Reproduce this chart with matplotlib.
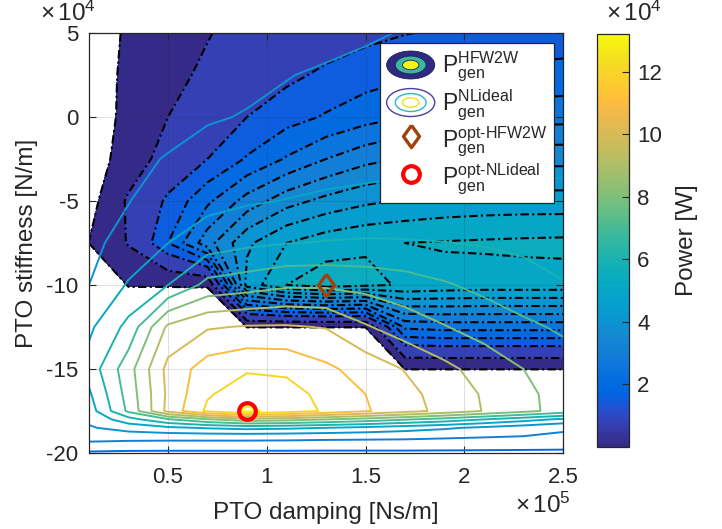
import numpy as np
import matplotlib
matplotlib.use('Agg')
import matplotlib.pyplot as plt
from matplotlib.colors import LinearSegmentedColormap, Normalize
from matplotlib.legend_handler import HandlerBase
from matplotlib.patches import Ellipse
from matplotlib.lines import Line2D
import matplotlib.cm as cm

plt.rcParams['font.family'] = ['Liberation Sans', 'DejaVu Sans']
plt.rcParams['mathtext.fontset'] = 'custom'
plt.rcParams['mathtext.rm'] = 'Liberation Sans'
plt.rcParams['mathtext.it'] = 'Liberation Sans:italic'
plt.rcParams['mathtext.bf'] = 'Liberation Sans:bold'

# ---------------- data ----------------
damping = np.array([0.1, 0.3, 0.5, 0.7, 0.9, 1.1, 1.3, 1.5, 1.7, 1.9, 2.1, 2.3, 2.5]) * 1e5

# NL ideal generated power (x1e4 W) on stiffness rows
stiff_nl = np.array([-20, -19.5, -19, -18.5, -18, -17.5, -16.5, -15, -12.5, -10,
                     -7.5, -5, -2.5, 0, 2.5, 5]) * 1e4
P_nl = np.array([
    [1.85, 1.8, 1.8, 1.8, 1.8, 1.8, 1.8, 1.8, 1.8, 1.8, 1.8, 1.8, 1.8],
    [2.7, 2.6, 2.55, 2.55, 2.55, 2.55, 2.5, 2.5, 2.5, 2.45, 2.4, 2.35, 2.3],
    [3.55, 3.5, 3.5, 3.5, 3.5, 3.45, 3.4, 3.35, 3.3, 3.2, 3.1, 3.0, 2.9],
    [3.9, 4.4, 4.8, 5.1, 5.3, 5.2, 5.0, 4.75, 4.45, 4.15, 3.8, 3.45, 3.1],
    [4.2, 5.6, 6.9, 7.9, 8.6, 8.4, 8.0, 7.6, 7.1, 6.6, 6.0, 5.4, 4.8],
    [4.5, 7.2, 10.3, 12.2, 13.2, 12.6, 11.85, 11.1, 10.4, 9.7, 8.95, 8.3, 7.6],
    [4.85, 7.4, 10.2, 11.9, 12.5, 12.4, 11.7, 11.0, 10.3, 9.6, 8.9, 8.25, 7.6],
    [5.4, 7.6, 10.3, 11.5, 11.9, 11.8, 11.2, 10.6, 9.95, 9.25, 8.6, 8.0, 7.5],
    [4.8, 6.3, 9.2, 9.9, 10.08, 10.1, 9.95, 9.1, 8.5, 8.05, 7.6, 7.2, 6.85],
    [4.0, 5.1, 6.0, 7.3, 7.55, 7.85, 7.85, 7.7, 7.45, 7.1, 6.75, 6.4, 6.05],
    [3.8, 4.3, 5.0, 5.5, 5.8, 5.97, 6.05, 6.1, 6.08, 6.02, 5.93, 5.8, 5.65],
    [3.7, 3.97, 4.5, 4.72, 4.9, 5.03, 5.15, 5.22, 5.27, 5.3, 5.28, 5.23, 5.15],
    [3.65, 3.88, 4.03, 4.2, 4.35, 4.48, 4.6, 4.7, 4.78, 4.84, 4.87, 4.88, 4.87],
    [3.5, 3.65, 3.82, 3.95, 4.03, 4.12, 4.2, 4.28, 4.36, 4.42, 4.47, 4.5, 4.5],
    [3.3, 3.45, 3.6, 3.75, 3.88, 3.98, 4.07, 4.15, 4.22, 4.28, 4.32, 4.35, 4.36],
    [3.1, 3.2, 3.35, 3.5, 3.62, 3.73, 3.83, 3.93, 4.03, 4.1, 4.15, 4.18, 4.2],
]) * 1e4

# HFW2W generated power (x1e4 W); negative = below lowest level (blank)
stiff_hf = np.array([-20, -17.5, -15, -12.5, -10, -7.5, -5, -2.5, 0, 2.5, 5]) * 1e4
P_hf = np.array([
    [-1, -1, -1, -1, -1, -1, -1, -1, -1, -1, -1, -1, -1],
    [-1, -1, -1, -1, -1, -1, -1, -1, -1, -1, -1, -1, -1],
    [-1, -1, -1, -1, -1, -1, -1, -1, 0.06, 0.06, 0.06, 0.06, 0.06],
    [-1, -1, -1, -1, 0.06, 0.06, 0.06, 0.06, 2.6, 2.7, 2.7, 2.7, 2.7],
    [-1, 0.1, 0.1, 0.12, 4.7, 5.5, 5.75, 5.6, 5.45, 5.35, 5.3, 5.3, 5.3],
    [0.06, 0.8, 2.0, 3.3, 4.4, 5.0, 5.3, 5.45, 5.5, 5.54, 5.57, 5.6, 5.62],
    [-0.2, 0.85, 1.6, 2.4, 3.2, 3.8, 4.15, 4.4, 4.55, 4.65, 4.7, 4.72, 4.72],
    [-0.3, 0.35, 1.05, 1.5, 2.05, 2.55, 3.0, 3.35, 3.55, 3.7, 3.8, 3.85, 3.85],
    [-0.1, 0.12, 0.75, 1.1, 1.5, 1.8, 2.05, 2.3, 2.5, 2.65, 2.75, 2.8, 2.82],
    [-0.05, 0.09, 0.6, 0.85, 1.15, 1.38, 1.6, 1.78, 1.92, 2.02, 2.1, 2.15, 2.18],
    [-0.03, 0.07, 0.42, 0.72, 0.95, 1.1, 1.22, 1.36, 1.48, 1.56, 1.63, 1.68, 1.72],
]) * 1e4

levels_hf = np.array([0.05, 0.75, 1.5, 2.0, 2.5, 3.0, 3.5, 4.0, 4.5, 5.0, 5.5, 6.0]) * 1e4
levels_nl = np.array([1, 2, 3, 4, 5, 6, 7, 8, 9, 10, 11, 12, 13]) * 1e4

opt_hf = (1.3e5, -10e4)
opt_nl = (0.9e5, -17.5e4)

clim = (0, 13.2e4)
cbar_ticks = np.array([2, 4, 6, 8, 10, 12]) * 1e4
x_ticks = np.array([0.5, 1, 1.5, 2, 2.5]) * 1e5
y_ticks = np.array([-20, -15, -10, -5, 0, 5]) * 1e4

# ---------------- colormap (parula) ----------------
PARULA = [
    (0.2081, 0.1663, 0.5292), (0.2116, 0.1898, 0.5777), (0.2123, 0.2138, 0.6270),
    (0.2081, 0.2386, 0.6771), (0.1959, 0.2645, 0.7279), (0.1707, 0.2919, 0.7792),
    (0.1253, 0.3242, 0.8303), (0.0591, 0.3598, 0.8683), (0.0117, 0.3875, 0.8820),
    (0.0060, 0.4086, 0.8828), (0.0165, 0.4266, 0.8786), (0.0329, 0.4430, 0.8720),
    (0.0498, 0.4586, 0.8641), (0.0629, 0.4737, 0.8554), (0.0723, 0.4887, 0.8467),
    (0.0779, 0.5040, 0.8384), (0.0793, 0.5200, 0.8312), (0.0749, 0.5375, 0.8263),
    (0.0641, 0.5570, 0.8240), (0.0488, 0.5772, 0.8228), (0.0343, 0.5966, 0.8199),
    (0.0265, 0.6137, 0.8135), (0.0239, 0.6287, 0.8038), (0.0231, 0.6418, 0.7913),
    (0.0228, 0.6535, 0.7768), (0.0267, 0.6642, 0.7607), (0.0384, 0.6743, 0.7436),
    (0.0590, 0.6838, 0.7254), (0.0843, 0.6928, 0.7062), (0.1133, 0.7015, 0.6859),
    (0.1453, 0.7098, 0.6646), (0.1801, 0.7177, 0.6424), (0.2178, 0.7250, 0.6193),
    (0.2586, 0.7317, 0.5954), (0.3022, 0.7376, 0.5712), (0.3482, 0.7424, 0.5473),
    (0.3953, 0.7459, 0.5244), (0.4420, 0.7481, 0.5033), (0.4871, 0.7491, 0.4840),
    (0.5300, 0.7491, 0.4661), (0.5709, 0.7485, 0.4494), (0.6099, 0.7473, 0.4337),
    (0.6473, 0.7456, 0.4188), (0.6834, 0.7435, 0.4044), (0.7184, 0.7411, 0.3905),
    (0.7525, 0.7384, 0.3768), (0.7858, 0.7356, 0.3633), (0.8185, 0.7327, 0.3498),
    (0.8507, 0.7299, 0.3360), (0.8824, 0.7274, 0.3217), (0.9139, 0.7258, 0.3063),
    (0.9450, 0.7261, 0.2886), (0.9739, 0.7314, 0.2666), (0.9938, 0.7455, 0.2403),
    (0.9990, 0.7653, 0.2164), (0.9955, 0.7861, 0.1967), (0.9880, 0.8066, 0.1794),
    (0.9789, 0.8271, 0.1633), (0.9697, 0.8481, 0.1475), (0.9626, 0.8705, 0.1309),
    (0.9589, 0.8949, 0.1132), (0.9598, 0.9218, 0.0948), (0.9661, 0.9514, 0.0755),
    (0.9763, 0.9831, 0.0538)]
parula = LinearSegmentedColormap.from_list('parula', PARULA, N=256)
norm = Normalize(vmin=clim[0], vmax=clim[1])

TXT = '#262626'

fig = plt.figure(figsize=(7.22, 5.29), dpi=100)
W, H = 722, 529
ax = fig.add_axes([89 / W, (H - 453) / H, 474 / W, 420 / H])

# filled HFW2W power contour (band color = lower level, as in MATLAB)
band_colors = [parula(norm(v)) for v in levels_hf[:-1]]
ax.contourf(damping, stiff_hf, P_hf, levels=levels_hf, colors=band_colors, zorder=1)
ax.contour(damping, stiff_hf, P_hf, levels=levels_hf[:-1], colors='k',
           linewidths=1.5, linestyles=[(0, (4, 1.6, 1, 1.6))], zorder=2)

# NL ideal power contour lines
ax.contour(damping, stiff_nl, P_nl, levels=levels_nl, cmap=parula, norm=norm,
           linewidths=1.4, zorder=3)

# optimum markers
diamond = [(0, 1), (0.72, 0), (0, -1), (-0.72, 0), (0, 1)]
ax.plot([opt_hf[0]], [opt_hf[1]], marker=diamond, ms=16, mfc='none', mec='#A0410C',
        mew=2.4, ls='none', zorder=5)
ax.plot([opt_nl[0]], [opt_nl[1]], marker='o', ms=12, mfc='none', mec='#FF0000',
        mew=3.0, ls='none', zorder=5)

ax.set_xlim(0.1e5, 2.5e5)
ax.set_ylim(-20e4, 5e4)
ax.set_xticks(x_ticks)
ax.set_xticklabels(['0.5', '1', '1.5', '2', '2.5'])
ax.set_yticks(y_ticks)
ax.set_yticklabels(['-20', '-15', '-10', '-5', '0', '5'])
ax.tick_params(direction='in', length=5, width=0.8, top=True, right=True,
               labelsize=16, colors=TXT)
ax.tick_params(axis='x', pad=10)
ax.tick_params(axis='y', pad=7.5)
ax.grid(True, color='#262626', alpha=0.15, lw=0.7, zorder=4)
ax.set_axisbelow(False)
for s in ax.spines.values():
    s.set_color(TXT)
    s.set_linewidth(0.9)
    s.set_zorder(6)

ax.set_xlabel('PTO damping [Ns/m]', fontsize=17.5, color=TXT, labelpad=10)
ax.set_ylabel('PTO stiffness [N/m]', fontsize=17.5, color=TXT, labelpad=6)
fig.text(96 / W, 1 - 21 / H, r'$\times\,10^{4}$', fontsize=17.5, color=TXT, ha='right', va='baseline')
fig.text(571 / W, 1 - 513 / H, r'$\times\,10^{5}$', fontsize=17.5, color=TXT, ha='right', va='baseline')


# ---------------- legend ----------------
class FilledEllipses(HandlerBase):
    def create_artists(self, legend, orig_handle, xdescent, ydescent, width, height, fontsize, trans):
        cx, cy = width / 2 - xdescent, height / 2 - ydescent
        arts = []
        for sc, fc in [(1.0, '#2E2A80'), (0.64, '#3BB89B'), (0.34, '#F6F21C')]:
            arts.append(Ellipse((cx, cy), width * sc, height * sc, facecolor=fc,
                                edgecolor='#20205a', lw=0.6, transform=trans))
        return arts


class LineEllipses(HandlerBase):
    def create_artists(self, legend, orig_handle, xdescent, ydescent, width, height, fontsize, trans):
        cx, cy = width / 2 - xdescent, height / 2 - ydescent
        arts = []
        for sc, ec in [(1.0, '#4A3FA6'), (0.64, '#2DB7BE'), (0.34, '#EDE31B')]:
            arts.append(Ellipse((cx, cy), width * sc, height * sc, facecolor='none',
                                edgecolor=ec, lw=1.0, transform=trans))
        return arts


h1 = Line2D([], [], label='hf')
h2 = Line2D([], [], label='nl')
h3 = Line2D([], [], marker=diamond, ms=16, mfc='none', mec='#A0410C', mew=2.4, ls='none')
h4 = Line2D([], [], marker='o', ms=12, mfc='none', mec='#FF0000', mew=3.0, ls='none')
labels = [r'$\mathrm{P}^{\mathrm{HFW2W}}_{\mathrm{gen}}$',
          r'$\mathrm{P}^{\mathrm{NLideal}}_{\mathrm{gen}}$',
          r'$\mathrm{P}^{\mathrm{opt\text{-}HFW2W}}_{\mathrm{gen}}$',
          r'$\mathrm{P}^{\mathrm{opt\text{-}NLideal}}_{\mathrm{gen}}$']
leg = ax.legend([h1, h2, h3, h4], labels, loc='upper right',
                bbox_to_anchor=(0.981, 0.976), borderaxespad=0, fontsize=16.5,
                handler_map={h1: FilledEllipses(), h2: LineEllipses()},
                handlelength=2.1, handleheight=1.5, handletextpad=0.3,
                labelspacing=0.12, borderpad=0.3, fancybox=False, framealpha=1,
                edgecolor=TXT)
leg.get_frame().set_linewidth(0.9)
leg.set_zorder(10)
for t in leg.get_texts():
    t.set_color(TXT)

# ---------------- colorbar ----------------
cax = fig.add_axes([597 / W, (H - 447) / H, 32 / W, 413 / H])
sm = cm.ScalarMappable(norm=norm, cmap=parula)
cb = fig.colorbar(sm, cax=cax, ticks=cbar_ticks)
cb.ax.set_yticklabels(['2', '4', '6', '8', '10', '12'])
cb.ax.tick_params(direction='in', length=5, width=0.8, labelsize=16, colors=TXT, pad=6)
cb.outline.set_edgecolor(TXT)
cb.outline.set_linewidth(0.9)
cb.set_label('Power [W]', fontsize=17.5, color=TXT, labelpad=10)
fig.text(662 / W, 1 - 21 / H, r'$\times\,10^{4}$', fontsize=17.5, color=TXT, ha='right', va='baseline')

fig.savefig('out.png', dpi=100)
